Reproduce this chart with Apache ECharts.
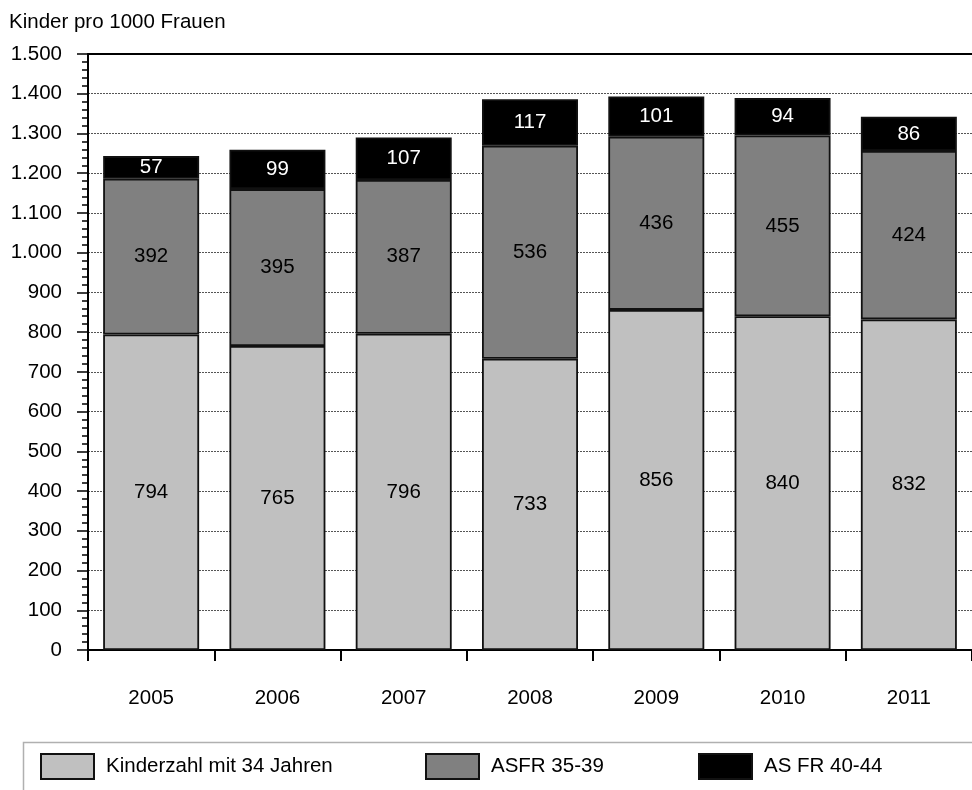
<!DOCTYPE html>
<html>
<head>
<meta charset="utf-8">
<title>Kinder pro 1000 Frauen</title>
<script src="https://cdn.jsdelivr.net/npm/echarts@6/dist/echarts.min.js"></script>
<style>
  html, body { margin: 0; padding: 0; background: #fff; }
  #chart { width: 972px; height: 790px; }
</style>
</head>
<body>
<div id="chart"></div>
<script>
// Jahre und Geburten je 1000 Frauen, nach Altersgruppe
const years = ['2005', '2006', '2007', '2008', '2009', '2010', '2011'];
const kinderzahl34 = [794, 765, 796, 733, 856, 840, 832];
const asfr3539 = [392, 395, 387, 536, 436, 455, 424];
const asfr4044 = [57, 99, 107, 117, 101, 94, 86];
const seriesNames = ['Kinderzahl mit 34 Jahren', 'ASFR 35-39', 'AS FR 40-44'];

const FONT = '"Liberation Sans", Arial, sans-serif';
const chart = echarts.init(document.getElementById('chart'), null, { renderer: 'canvas' });

function fmtDE(v) {
  // Tausenderpunkt: 1500 -> 1.500
  const s = String(v);
  return s.length > 3 ? s.slice(0, s.length - 3) + '.' + s.slice(-3) : s;
}

function barSeries(name, data, color, labelColor) {
  return {
    name: name,
    type: 'bar',
    stack: 'total',
    data: data,
    barWidth: '76%',
    itemStyle: { color: color, borderColor: '#111', borderWidth: 1.8 },
    label: {
      show: true,
      position: 'inside',
      color: labelColor,
      fontFamily: FONT,
      fontSize: 20.5
    },
    emphasis: { disabled: true }
  };
}

function legendAt(left, name) {
  return {
    data: [name],
    left: left,
    top: 748,
    itemWidth: 53,
    itemHeight: 25,
    itemGap: 0,
    icon: 'rect',
    selectedMode: false,
    textStyle: { fontFamily: FONT, fontSize: 20.5, color: '#000', padding: [0, 0, 0, 7] }
  };
}

chart.setOption({
  animation: false,
  backgroundColor: '#fff',
  title: {
    text: 'Kinder pro 1000 Frauen',
    left: 4,
    top: 7,
    textStyle: { fontFamily: FONT, fontSize: 20.5, fontWeight: 'normal', color: '#000' }
  },
  graphic: [{
    type: 'rect',
    shape: { x: 23.5, y: 742.5, width: 980, height: 80 },
    style: { fill: 'none', stroke: '#b0b0b0', lineWidth: 1.5 },
    silent: true
  }],
  legend: [
    legendAt(35, seriesNames[0]),
    legendAt(420, seriesNames[1]),
    legendAt(693, seriesNames[2])
  ],
  grid: { left: 88, right: 0, top: 54, bottom: 140, containLabel: false },
  xAxis: [{
    type: 'category',
    data: years,
    axisLine: { show: true, lineStyle: { color: '#000', width: 2 } },
    axisTick: { show: true, alignWithLabel: false, length: 11, lineStyle: { color: '#000', width: 2 } },
    axisLabel: { margin: 38, color: '#000', fontFamily: FONT, fontSize: 20.5 },
    splitLine: { show: false }
  }, {
    type: 'category',
    data: years,
    position: 'top',
    axisLine: { show: true, lineStyle: { color: '#000', width: 2 } },
    axisTick: { show: false },
    axisLabel: { show: false }
  }],
  yAxis: {
    type: 'value',
    min: 0,
    max: 1500,
    interval: 100,
    axisLine: { show: true, lineStyle: { color: '#000', width: 2 } },
    axisTick: { show: true, length: 11, lineStyle: { color: '#000', width: 1.5 } },
    minorTick: { show: true, splitNumber: 5, length: 6, lineStyle: { color: '#000', width: 1.5 } },
    axisLabel: {
      margin: 26,
      color: '#000',
      fontFamily: FONT,
      fontSize: 20.5,
      formatter: fmtDE
    },
    splitLine: { show: true, lineStyle: { color: '#555', width: 1, type: [2, 1] } }
  },
  series: [
    barSeries(seriesNames[0], kinderzahl34, '#c0c0c0', '#000'),
    barSeries(seriesNames[1], asfr3539, '#808080', '#000'),
    barSeries(seriesNames[2], asfr4044, '#000000', '#fff')
  ]
});
</script>
</body>
</html>
